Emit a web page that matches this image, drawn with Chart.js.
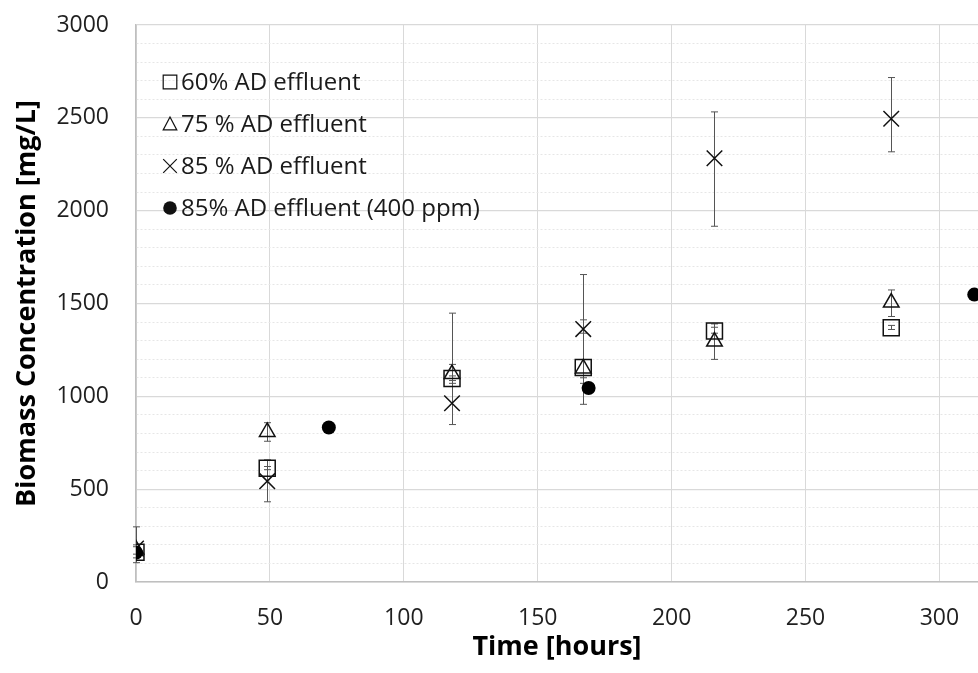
<!DOCTYPE html>
<html>
<head>
<meta charset="utf-8">
<script src="https://cdn.jsdelivr.net/npm/chart.js@4/dist/chart.umd.min.js"></script>
<style>
  html, body { margin: 0; padding: 0; background: #fff; }
  #wrap { width: 978px; height: 673px; }
</style>
</head>
<body>
<div id="wrap"><canvas id="biomass-chart" width="978" height="673"></canvas></div>
<script>
// values
const hoursMain = [0, 49, 118, 167, 216, 282];
const conc60 = [160, 613, 1096, 1155, 1352, 1370];
const lo60 = [130, 605, 1085, 1100, 1340, 1360];
const hi60 = [190, 622, 1110, 1412, 1372, 1382];

const conc75 = [175, 808, 1120, 1150, 1295, 1505];
const lo75 = [150, 758, 1070, 957, 1199, 1430];
const hi75 = [200, 858, 1172, 1340, 1390, 1573];

const conc85 = [180, 543, 963, 1362, 2282, 2495];
const lo85 = [104, 432, 848, 1070, 1916, 2317];
const hi85 = [297, 658, 1448, 1656, 2532, 2717];

const hours400 = [0, 72, 169, 313];
const conc400 = [158, 832, 1045, 1548];

const legendLabels = ['60% AD effluent', '75 % AD effluent', '85 % AD effluent', '85% AD effluent (400 ppm)'];
const xTitle = 'Time [hours]';
const yTitle = 'Biomass Concentration [mg/L]';

const FONT = "'Open Sans', 'DejaVu Sans', sans-serif";

function toPoints(xs, ys) {
  return xs.map((x, i) => ({ x: x, y: ys[i] }));
}

// vertical error bars drawn through the chart scales
const errorBars = {
  id: 'errorBars',
  beforeDatasetsDraw(chart) {
    const { ctx, scales: { x, y } } = chart;
    ctx.save();
    ctx.strokeStyle = '#555';
    ctx.lineWidth = 1;
    chart.data.datasets.forEach(ds => {
      if (!ds.errLo) return;
      ds.data.forEach((p, i) => {
        const px = Math.round(x.getPixelForValue(p.x)) + 0.5;
        const top = y.getPixelForValue(ds.errHi[i]);
        const bot = y.getPixelForValue(ds.errLo[i]);
        ctx.beginPath();
        ctx.moveTo(px, top); ctx.lineTo(px, bot);
        ctx.moveTo(px - 3.5, top); ctx.lineTo(px + 3.5, top);
        ctx.moveTo(px - 3.5, bot); ctx.lineTo(px + 3.5, bot);
        ctx.stroke();
      });
    });
    ctx.restore();
  }
};

function drawMarker(ctx, style, cx, cy, r) {
  ctx.beginPath();
  if (style === 'rect') {
    ctx.rect(cx - r, cy - r, 2 * r, 2 * r);
    ctx.stroke();
  } else if (style === 'triangle') {
    const h = r * 1.75;
    ctx.moveTo(cx, cy - h / 2 - 1);
    ctx.lineTo(cx + r, cy + h / 2);
    ctx.lineTo(cx - r, cy + h / 2);
    ctx.closePath();
    ctx.stroke();
  } else if (style === 'crossRot') {
    ctx.moveTo(cx - r, cy - r); ctx.lineTo(cx + r, cy + r);
    ctx.moveTo(cx + r, cy - r); ctx.lineTo(cx - r, cy + r);
    ctx.stroke();
  } else {
    ctx.arc(cx, cy, r, 0, Math.PI * 2);
    ctx.fill();
  }
}

// legend sits inside the plot, top left, one item per row
const insideLegend = {
  id: 'insideLegend',
  afterDraw(chart) {
    const { ctx } = chart;
    const styles = ['rect', 'triangle', 'crossRot', 'circle'];
    const rows = [82, 124, 166, 208];
    ctx.save();
    ctx.strokeStyle = '#111';
    ctx.fillStyle = '#111';
    ctx.lineWidth = 1.2;
    styles.forEach((s, i) => drawMarker(ctx, s, 170, rows[i], 6.8));
    ctx.font = '24px ' + FONT;
    ctx.textBaseline = 'middle';
    ctx.fillStyle = '#1a1a1a';
    legendLabels.forEach((t, i) => ctx.fillText(t, 181, rows[i] + 1));
    ctx.restore();
  }
};

const ctx = document.getElementById('biomass-chart').getContext('2d');
window.biomassChart = new Chart(ctx, {
  type: 'scatter',
  data: {
    datasets: [
      {
        label: legendLabels[3],
        data: toPoints(hours400, conc400),
        pointStyle: 'circle',
        pointRadius: 7,
        backgroundColor: '#000',
        borderColor: '#000',
        borderWidth: 0,
        order: 0
      },
      {
        label: legendLabels[0],
        data: toPoints(hoursMain, conc60),
        errLo: lo60, errHi: hi60,
        pointStyle: 'rect',
        pointRadius: 11.3,
        backgroundColor: 'rgba(0,0,0,0)',
        borderColor: '#111',
        borderWidth: 1.5,
        order: 1
      },
      {
        label: legendLabels[1],
        data: toPoints(hoursMain, conc75),
        errLo: lo75, errHi: hi75,
        pointStyle: 'triangle',
        pointRadius: 9,
        backgroundColor: 'rgba(0,0,0,0)',
        borderColor: '#111',
        borderWidth: 1.5,
        order: 2
      },
      {
        label: legendLabels[2],
        data: toPoints(hoursMain, conc85),
        errLo: lo85, errHi: hi85,
        pointStyle: 'crossRot',
        pointRadius: 11,
        backgroundColor: 'rgba(0,0,0,0)',
        borderColor: '#111',
        borderWidth: 1.5,
        order: 3
      }
    ]
  },
  options: {
    responsive: false,
    animation: false,
    layout: { autoPadding: false, padding: { top: 25, right: 0, left: 0, bottom: 0 } },
    plugins: {
      legend: { display: false },
      tooltip: { enabled: false }
    },
    scales: {
      x: {
        type: 'linear',
        min: 0,
        max: 314.4,
        afterFit: s => { s.height = 91; s.paddingLeft = 0; s.paddingRight = 0; },
        ticks: {
          stepSize: 50,
          includeBounds: false,
          padding: 23,
          color: '#1f1f1f',
          font: { family: FONT, size: 23 }
        },
        grid: { color: '#d9d9d9', lineWidth: 1, drawTicks: false },
        border: { color: '#bfbfbf', width: 1.5 },
        title: {
          display: true,
          text: xTitle,
          color: '#000',
          font: { family: FONT, size: 27, weight: 'bold' },
          padding: { top: 0, bottom: 9 }
        }
      },
      y: {
        min: 0,
        max: 3000,
        afterFit: s => { s.width = 136; s.paddingTop = 0; s.paddingBottom = 0; },
        ticks: {
          stepSize: 100,
          autoSkip: false,
          padding: 27,
          color: '#1f1f1f',
          font: { family: FONT, size: 23 },
          callback: v => (v % 500 === 0 ? String(v) : '')
        },
        grid: {
          drawTicks: false,
          color: c => (c.tick && c.tick.value % 500 !== 0 ? '#e6e6e6' : '#d9d9d9'),
          lineWidth: c => (c.tick && c.tick.value % 500 !== 0 ? 1 : 1.3)
        },
        border: {
          color: '#bfbfbf',
          width: 1.5,
          dash: c => (c.tick && c.tick.value % 500 !== 0 ? [2, 2] : [])
        },
        title: {
          display: true,
          text: yTitle,
          color: '#000',
          font: { family: FONT, size: 27, weight: 'bold' },
          padding: { top: 11, bottom: 0 }
        }
      }
    }
  },
  plugins: [errorBars, insideLegend]
});
</script>
</body>
</html>
